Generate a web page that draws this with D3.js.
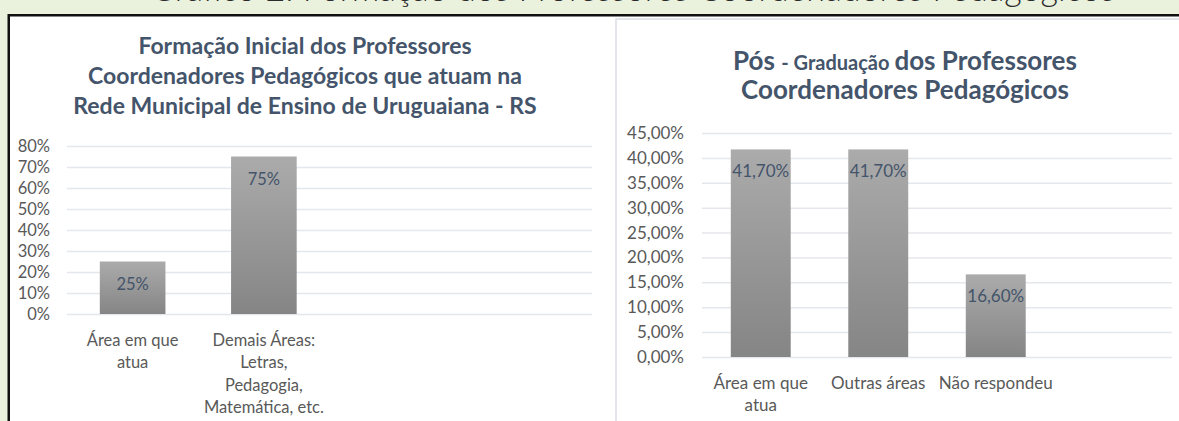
<!DOCTYPE html>
<html>
<head>
<meta charset="utf-8">
<script src="https://cdn.jsdelivr.net/npm/d3@7"></script>
<style>
  body { margin: 0; background: #fff; overflow: hidden; }
  text { font-family: Lato, "Noto Sans", sans-serif; }
</style>
</head>
<body>
<div id="chart-area"></div>
<script>
// data
var leftCategories = [["Área em que", "atua"], ["Demais Áreas:", "Letras,", "Pedagogia,", "Matemática, etc."]];
var leftValues = [0.25, 0.75];
var leftTicks = [0, 0.1, 0.2, 0.3, 0.4, 0.5, 0.6, 0.7, 0.8];
var leftTitle = ["Formação Inicial dos Professores", "Coordenadores Pedagógicos que atuam na", "Rede Municipal de Ensino de Uruguaiana - RS"];

var rightCategories = [["Área em que", "atua"], ["Outras áreas"], ["Não respondeu"]];
var rightValues = [0.417, 0.417, 0.166];
var rightTicks = [0, 0.05, 0.10, 0.15, 0.20, 0.25, 0.30, 0.35, 0.40, 0.45];

var pageTitle = "Gráfico 2: Formação dos Professores Coordenadores Pedagógicos";

var W = 1179, H = 421;
var svg = d3.select("#chart-area").append("svg")
  .attr("width", W).attr("height", H)
  .style("display", "block");

var defs = svg.append("defs");
var grad = defs.append("linearGradient")
  .attr("id", "barGrad").attr("x1", 0).attr("y1", 0).attr("x2", 0).attr("y2", 1);
grad.append("stop").attr("offset", "0%").attr("stop-color", "#ababab");
grad.append("stop").attr("offset", "100%").attr("stop-color", "#858585");

// page background pieces
svg.append("rect").attr("x", 0).attr("y", 0).attr("width", W).attr("height", 15).attr("fill", "#eaf1dd");
svg.append("rect").attr("x", 0).attr("y", 0).attr("width", 8).attr("height", H).attr("fill", "#eaf1dd");

// heading of the page, cut off at the very top
svg.append("text")
  .attr("x", 150).attr("y", 1)
  .attr("textLength", 965)
  .attr("lengthAdjust", "spacingAndGlyphs")
  .attr("font-size", "36px")
  .attr("font-weight", 300)
  .attr("fill", "#2b2b2b")
  .text(pageTitle);

svg.append("rect").attr("x", 8).attr("y", 14).attr("width", W - 8).attr("height", 2.5).attr("fill", "#111");
svg.append("rect").attr("x", 7.5).attr("y", 14).attr("width", 2.5).attr("height", H).attr("fill", "#111");

// right panel frame
svg.append("rect").attr("x", 616).attr("y", 19).attr("width", W - 616 + 2).attr("height", H)
  .attr("fill", "#fff").attr("stroke", "#d9dde3").attr("stroke-width", 1.5);

function drawChart(cfg) {
  var g = svg.append("g");
  var y = d3.scaleLinear().domain(cfg.domain).range([cfg.bottom, cfg.top]);
  var step = (cfg.right - cfg.left) / 4;
  var x = d3.scaleBand()
    .domain(cfg.categories.map(function(d, i) { return i; }))
    .range([cfg.left, cfg.left + step * cfg.categories.length])
    .paddingInner(cfg.pad).paddingOuter(cfg.pad / 2);

  var axis = d3.axisLeft(y)
    .tickValues(cfg.ticks)
    .tickSize(-(cfg.right - cfg.left))
    .tickFormat(cfg.format);

  var ax = g.append("g")
    .attr("transform", "translate(" + cfg.left + ",0)")
    .call(axis);
  ax.select(".domain").remove();
  ax.selectAll("line").attr("stroke", "#e4e7eb").attr("stroke-width", 1.5);
  ax.selectAll("text")
    .attr("x", -cfg.labelGap)
    .attr("font-size", cfg.fs + "px")
    .attr("fill", "#595959")
    .style("font-family", "Lato, 'Noto Sans', sans-serif");

  g.selectAll("rect.bar")
    .data(cfg.values)
    .enter().append("rect")
    .attr("class", "bar")
    .attr("x", function(d, i) { return x(i); })
    .attr("width", x.bandwidth())
    .attr("y", function(d) { return y(d); })
    .attr("height", function(d) { return cfg.bottom - y(d); })
    .attr("fill", "url(#barGrad)");

  g.selectAll("text.val")
    .data(cfg.values)
    .enter().append("text")
    .attr("class", "val")
    .attr("x", function(d, i) { return x(i) + x.bandwidth() / 2; })
    .attr("y", function(d) { return y(d) + 28; })
    .attr("text-anchor", "middle")
    .attr("font-size", cfg.fs + "px")
    .attr("fill", "#44546a")
    .text(cfg.valueFormat);

  cfg.categories.forEach(function(lines, i) {
    var t = g.append("text")
      .attr("text-anchor", "middle")
      .attr("font-size", cfg.fs + "px")
      .attr("fill", "#595959");
    lines.forEach(function(l, j) {
      t.append("tspan")
        .attr("x", x(i) + x.bandwidth() / 2)
        .attr("y", cfg.bottom + 32 + j * 22.3)
        .text(l);
    });
  });

  var title = g.append("text")
    .attr("text-anchor", "middle")
    .attr("font-weight", "bold")
    .attr("fill", "#44546a");
  cfg.title.forEach(function(l, j) {
    var ts = title.append("tspan")
      .attr("x", cfg.titleX)
      .attr("y", cfg.titleY + j * cfg.titleLead)
      .attr("font-size", cfg.titleSize);
    if (typeof l === "string") ts.text(l);
    else l.forEach(function(p) {
      ts.append("tspan").attr("font-size", p[1]).text(p[0]);
    });
  });
}

var pct0 = function(d) { return Math.round(d * 100) + "%"; };
var pct2 = function(d) { return (d * 100).toFixed(2).replace(".", ",") + "%"; };

drawChart({
  categories: leftCategories, values: leftValues, ticks: leftTicks,
  domain: [0, 0.8], top: 146, bottom: 314, left: 67, right: 592,
  pad: 0.5, labelGap: 17, fs: 16.5, format: pct0, valueFormat: pct0,
  title: leftTitle, titleX: 305, titleY: 54, titleLead: 30, titleSize: "23px"
});

drawChart({
  categories: rightCategories, values: rightValues, ticks: rightTicks,
  domain: [0, 0.45], top: 133, bottom: 357, left: 702, right: 1172,
  pad: 0.49, labelGap: 18, fs: 17, format: pct2, valueFormat: pct2,
  title: [[["Pós ", "26px"], ["- Graduação ", "20px"], ["dos Professores", "26px"]], "Coordenadores Pedagógicos"],
  titleX: 905, titleY: 70, titleLead: 29, titleSize: "26px"
});
</script>
</body>
</html>
